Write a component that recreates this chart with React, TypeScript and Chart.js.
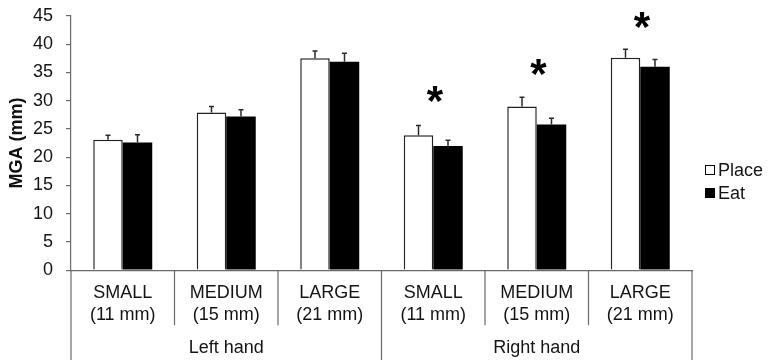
import React, { useEffect, useRef } from 'react';
import { Chart, registerables } from 'chart.js';

Chart.register(...registerables);

// ---- Data ----
const categories: string[][] = [
  ['SMALL', '(11 mm)'],
  ['MEDIUM', '(15 mm)'],
  ['LARGE', '(21 mm)'],
  ['SMALL', '(11 mm)'],
  ['MEDIUM', '(15 mm)'],
  ['LARGE', '(21 mm)'],
];
const groups = ['Left hand', 'Right hand'];
const groupSize = 3;
const placeValues = [23.1, 27.9, 37.5, 23.9, 29.0, 37.6];
const placeErrors = [0.8, 1.1, 1.3, 1.7, 1.6, 1.5];
const eatValues = [22.6, 27.2, 36.9, 22.0, 25.8, 36.0];
const eatErrors = [1.4, 1.2, 1.5, 1.0, 1.1, 1.3];
const significanceMarks: (number | null)[] = [null, null, null, 31.2, 36.0, 44.3];
const yMin = 0;
const yMax = 45;
const yStep = 5;
const seriesNames = ['Place', 'Eat'];

const FONT = "'Liberation Sans', Arial, Helvetica, sans-serif";
const AXIS_COLOR = '#6a6a6a';
const TEXT_COLOR = '#141414';

const errorBarPlugin = {
  id: 'errorBars',
  afterDatasetsDraw(chart: any, _args: any, opts: any) {
    const { ctx } = chart;
    const y = chart.scales.y;
    const errs: number[][] = opts.errors || [];
    chart.data.datasets.forEach((ds: any, di: number) => {
      const meta = chart.getDatasetMeta(di);
      meta.data.forEach((bar: any, i: number) => {
        const v = ds.data[i] as number;
        const e = errs[di]?.[i];
        if (e == null) return;
        const top = y.getPixelForValue(v + e);
        ctx.save();
        ctx.strokeStyle = '#2a2a2a';
        ctx.lineWidth = 1.5;
        ctx.beginPath();
        ctx.moveTo(bar.x, bar.y);
        ctx.lineTo(bar.x, top);
        ctx.moveTo(bar.x - 2.5, top);
        ctx.lineTo(bar.x + 2.5, top);
        ctx.stroke();
        ctx.restore();
      });
    });
  },
};

const significancePlugin = {
  id: 'significance',
  afterDatasetsDraw(chart: any, _args: any, opts: any) {
    const { ctx } = chart;
    const x = chart.scales.x;
    const y = chart.scales.y;
    const marks: (number | null)[] = opts.marks || [];
    ctx.save();
    ctx.font = `bold 100px ${FONT}`;
    const m = ctx.measureText('*');
    const h = m.actualBoundingBoxAscent + m.actualBoundingBoxDescent;
    const scale = 16 / (h || 30);
    const size = 100 * scale;
    ctx.font = `bold ${size}px ${FONT}`;
    const m2 = ctx.measureText('*');
    ctx.fillStyle = '#000';
    ctx.textAlign = 'left';
    ctx.textBaseline = 'alphabetic';
    marks.forEach((mv, i) => {
      if (mv == null) return;
      const cx = x.getPixelForValue(i) + 2;
      const cy = y.getPixelForValue(mv);
      const w = m2.actualBoundingBoxRight + m2.actualBoundingBoxLeft;
      const bx = cx - w / 2 + m2.actualBoundingBoxLeft;
      const by = cy + (m2.actualBoundingBoxAscent - m2.actualBoundingBoxDescent) / 2;
      ctx.fillText('*', bx, by);
    });
    ctx.restore();
  },
};

const dividerPlugin = {
  id: 'dividers',
  afterDraw(chart: any) {
    const { ctx } = chart;
    const x = chart.scales.x;
    const bottom = chart.chartArea.bottom;
    const n = categories.length;
    ctx.save();
    ctx.strokeStyle = AXIS_COLOR;
    ctx.lineWidth = 1.2;
    for (let i = 0; i <= n; i++) {
      let px: number;
      if (i === 0) px = x.left;
      else if (i === n) px = x.right;
      else px = (x.getPixelForValue(i - 1) + x.getPixelForValue(i)) / 2;
      const isGroupEdge = i % groupSize === 0;
      const end = isGroupEdge ? chart.height : bottom + 55;
      ctx.beginPath();
      ctx.moveTo(px, bottom);
      ctx.lineTo(px, end);
      ctx.stroke();
    }
    ctx.restore();
  },
};

const legendPlugin = {
  id: 'sideLegend',
  afterDraw(chart: any) {
    const { ctx } = chart;
    const lx = chart.chartArea.right + 13;
    const baseY = chart.height / 2 - 10;
    const fills = ['#ffffff', '#000000'];
    ctx.save();
    ctx.font = `18px ${FONT}`;
    ctx.textBaseline = 'middle';
    ctx.textAlign = 'left';
    seriesNames.forEach((name, k) => {
      const cy = baseY + k * 23;
      ctx.fillStyle = fills[k];
      ctx.fillRect(lx, cy - 5, 10, 10);
      ctx.strokeStyle = '#000';
      ctx.lineWidth = 1;
      ctx.strokeRect(lx + 0.5, cy - 4.5, 9, 9);
      ctx.fillStyle = TEXT_COLOR;
      ctx.fillText(name, lx + 13, cy + 1);
    });
    ctx.restore();
  },
};

export default function App() {
  const ref = useRef<HTMLCanvasElement | null>(null);

  useEffect(() => {
    document.body.style.margin = '0';
    if (!ref.current) return;
    const chart = new Chart(ref.current, {
      type: 'bar',
      data: {
        labels: categories,
        datasets: [
          {
            label: seriesNames[0],
            data: placeValues,
            backgroundColor: '#ffffff',
            borderColor: '#222222',
            borderWidth: 1.5,
            categoryPercentage: 0.57,
            barPercentage: 1.0,
          },
          {
            label: seriesNames[1],
            data: eatValues,
            backgroundColor: '#000000',
            borderWidth: 0,
            categoryPercentage: 0.57,
            barPercentage: 1.0,
          },
        ],
      },
      options: {
        animation: false,
        responsive: false,
        maintainAspectRatio: false,
        layout: { padding: { top: 16, right: 77, bottom: 1, left: 0 } },
        plugins: {
          legend: { display: false },
          tooltip: { enabled: false },
          errorBars: { errors: [placeErrors, eatErrors] },
          significance: { marks: significanceMarks },
        } as any,
        scales: {
          x: {
            type: 'category',
            position: 'bottom',
            weight: 0,
            offset: true,
            grid: { display: true, drawOnChartArea: false, drawTicks: false },
            border: { display: true, color: AXIS_COLOR, width: 1.2 },
            ticks: {
              maxRotation: 0,
              minRotation: 0,
              autoSkip: false,
              padding: 12,
              color: TEXT_COLOR,
              font: { family: FONT, size: 18, lineHeight: 1.2 },
            },
          },
          x2: {
            type: 'category',
            position: 'bottom',
            weight: 1,
            labels: groups,
            offset: true,
            grid: { display: true, drawOnChartArea: false, drawTicks: false },
            border: { display: false },
            ticks: {
              maxRotation: 0,
              autoSkip: false,
              padding: 0,
              color: TEXT_COLOR,
              font: { family: FONT, size: 18, lineHeight: 1.2 },
            },
          },
          y: {
            min: yMin,
            max: yMax,
            afterFit: (scale: any) => {
              scale.width = 71;
              scale.paddingTop = 0;
              scale.paddingBottom = 0;
            },
            grid: { display: true, drawOnChartArea: false, drawTicks: true, tickLength: 5, color: AXIS_COLOR, lineWidth: 1.2 },
            border: { display: true, color: AXIS_COLOR, width: 1.2 },
            ticks: {
              stepSize: yStep,
              padding: 13,
              color: TEXT_COLOR,
              font: { family: FONT, size: 18 },
            },
            title: {
              display: true,
              text: 'MGA (mm)',
              color: '#111',
              padding: { top: 6, bottom: 0 },
              font: { family: FONT, size: 18, weight: 'bold', lineHeight: 1.2 },
            },
          },
        } as any,
      },
      plugins: [errorBarPlugin, significancePlugin, dividerPlugin, legendPlugin],
    });
    return () => chart.destroy();
  }, []);

  return (
    <div style={{ width: 769, height: 360, position: 'relative' }}>
      <canvas ref={ref} width={769} height={360} style={{ display: 'block' }} />
    </div>
  );
}
